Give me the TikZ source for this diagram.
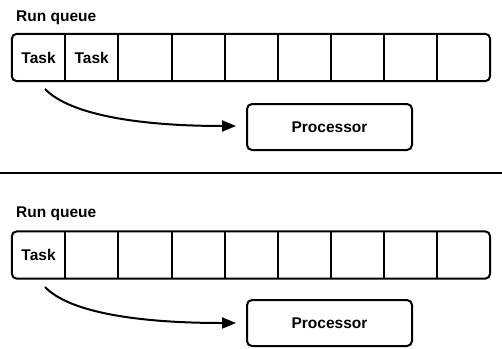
\documentclass[tikz,border=0pt]{standalone}
\usepackage{fontspec}
\setmainfont{Liberation Sans}
\usetikzlibrary{arrows.meta}
\begin{document}
\begin{tikzpicture}[x=1pt,y=-1pt,
  lbl/.style={font=\bfseries\fontsize{15.5}{18}\selectfont, inner sep=0pt},
  cell/.style={minimum width=53.1pt, minimum height=47pt, inner sep=0pt, font=\bfseries\fontsize{15.5}{18}\selectfont},
  frame/.style={draw, line width=2pt, rounded corners=5pt},
  divider/.style={line width=2pt},
  flow/.style={line width=2pt, -{Triangle[length=14pt,width=11pt]}},
  procbox/.style={draw, line width=2pt, rounded corners=5pt, minimum width=165pt, minimum height=46pt, inner sep=0pt, font=\bfseries\fontsize{15.5}{18}\selectfont}
]
\useasboundingbox (0,0) rectangle (502,348);
% ---- top ----
\node[lbl, anchor=base west] (rq1) at (16,21.5) {Run queue};
\foreach \i in {1,...,9} {
  \node[cell] (a\i) at ({12+53.1*(\i-0.5)},57.5) {};
}
\node[cell] at (a1) {Task};
\node[cell] at (a2) {Task};
\draw[frame] (a1.north west) rectangle (a9.south east);
\foreach \i in {1,...,8} {
  \draw[divider] (a\i.north east) -- (a\i.south east);
}
\node[procbox] (p1) at (329.5,127) {Processor};
\coordinate (s1) at (45,89);
\coordinate (e1) at (236,126);
\draw[flow] (s1) .. controls (70,115) and (140,126) .. (e1);
% ---- separator ----
\coordinate (L) at (0,173);
\coordinate (R) at (502,173);
\draw[divider] (L) -- (R);
% ---- bottom ----
\node[lbl, anchor=base west] (rq2) at (16,217) {Run queue};
\foreach \i in {1,...,9} {
  \node[cell] (b\i) at ({12+53.1*(\i-0.5)},255) {};
}
\node[cell] at (b1) {Task};
\draw[frame] (b1.north west) rectangle (b9.south east);
\foreach \i in {1,...,8} {
  \draw[divider] (b\i.north east) -- (b\i.south east);
}
\node[procbox] (p2) at (329.5,323) {Processor};
\coordinate (s2) at (45,287);
\coordinate (e2) at (236,323);
\draw[flow] (s2) .. controls (70,313) and (140,323) .. (e2);
\end{tikzpicture}
\end{document}
